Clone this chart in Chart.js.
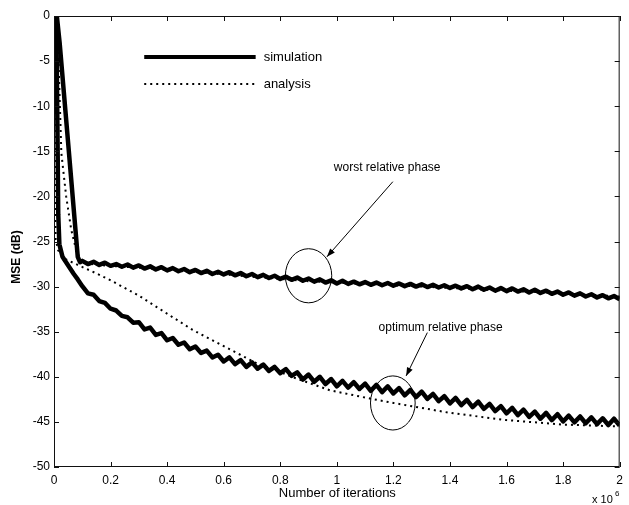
<!DOCTYPE html>
<html>
<head>
<meta charset="utf-8">
<script src="https://cdn.jsdelivr.net/npm/chart.js@4/dist/chart.umd.min.js"></script>
<style>
  body { margin: 0; background: #fff; }
  canvas { display: block; }
</style>
</head>
<body>
<canvas id="mse" width="629" height="505"></canvas>
<script>
// iterations are in units of 1e6, MSE in dB
const xTicks = [0, 0.2, 0.4, 0.6, 0.8, 1, 1.2, 1.4, 1.6, 1.8, 2];
const yTicks = [0, -5, -10, -15, -20, -25, -30, -35, -40, -45, -50];

// shared sample positions for the rippled part of the simulation curves
const rippleX = [
  0.10, 0.12, 0.14, 0.16, 0.18, 0.20, 0.22, 0.24, 0.26, 0.28,
  0.30, 0.32, 0.34, 0.36, 0.38, 0.40, 0.42, 0.44, 0.46, 0.48,
  0.50, 0.52, 0.54, 0.56, 0.58, 0.60, 0.62, 0.64, 0.66, 0.68,
  0.70, 0.72, 0.74, 0.76, 0.78, 0.80, 0.82, 0.84, 0.86, 0.88,
  0.90, 0.92, 0.94, 0.96, 0.98, 1.00, 1.02, 1.04, 1.06, 1.08,
  1.10, 1.12, 1.14, 1.16, 1.18, 1.20, 1.22, 1.24, 1.26, 1.28,
  1.30, 1.32, 1.34, 1.36, 1.38, 1.40, 1.42, 1.44, 1.46, 1.48,
  1.50, 1.52, 1.54, 1.56, 1.58, 1.60, 1.62, 1.64, 1.66, 1.68,
  1.70, 1.72, 1.74, 1.76, 1.78, 1.80, 1.82, 1.84, 1.86, 1.88,
  1.90, 1.92, 1.94, 1.96, 1.98, 2.00
];

// worst relative phase, simulation
const worstSimHeadX = [0.010, 0.020, 0.049, 0.084, 0.092];
const worstSimHeadY = [0, -3.0, -13.7, -26.7, -27.3];
const worstSimY = [
  -27.15, -27.5, -27.25, -27.6, -27.35, -27.7, -27.5, -27.8, -27.55, -27.9,
  -27.65, -28.0, -27.75, -28.1, -27.85, -28.2, -27.95, -28.3, -28.05, -28.4,
  -28.15, -28.5, -28.25, -28.6, -28.35, -28.65, -28.4, -28.75, -28.5, -28.85,
  -28.6, -28.95, -28.7, -29.05, -28.8, -29.15, -28.9, -29.25, -29.0, -29.35,
  -29.1, -29.45, -29.2, -29.55, -29.3, -29.65, -29.35, -29.7, -29.45, -29.75,
  -29.5, -29.8, -29.55, -29.85, -29.6, -29.9, -29.65, -29.95, -29.7, -30.0,
  -29.75, -30.05, -29.8, -30.1, -29.85, -30.15, -29.9, -30.2, -29.95, -30.3,
  -30.0, -30.35, -30.1, -30.45, -30.15, -30.5, -30.2, -30.55, -30.3, -30.65,
  -30.35, -30.7, -30.45, -30.8, -30.55, -30.9, -30.65, -31.0, -30.75, -31.1,
  -30.85, -31.2, -30.95, -31.3, -31.05, -31.4
];

// optimum relative phase, simulation
const optSimHeadX = [0.008, 0.012, 0.015, 0.019, 0.030, 0.049, 0.070, 0.084];
const optSimHeadY = [0, -12.0, -22.0, -25.3, -26.7, -27.6, -28.6, -29.2];
const optSimY = [
  -29.95, -30.75, -30.9, -31.6, -31.8, -32.45, -32.65, -33.25, -33.4, -34.0,
  -33.95, -34.75, -34.55, -35.35, -35.15, -35.95, -35.7, -36.45, -36.2, -36.95,
  -36.65, -37.35, -37.1, -37.85, -37.55, -38.3, -37.85, -38.6, -38.15, -38.9,
  -38.4, -39.1, -38.65, -39.35, -38.9, -39.6, -39.15, -39.9, -39.5, -40.3,
  -39.75, -40.55, -40.0, -40.8, -40.25, -41.05, -40.45, -41.2, -40.6, -41.35,
  -40.75, -41.55, -40.9, -41.7, -41.05, -41.85, -41.25, -42.05, -41.45, -42.25,
  -41.65, -42.45, -41.9, -42.7, -42.15, -42.95, -42.35, -43.15, -42.55, -43.35,
  -42.75, -43.55, -43.0, -43.8, -43.25, -44.05, -43.45, -44.25, -43.65, -44.45,
  -43.85, -44.65, -44.0, -44.8, -44.15, -44.95, -44.3, -45.05, -44.4, -45.15,
  -44.5, -45.25, -44.6, -45.35, -44.65, -45.4
];

// analysis curves
const worstAnaX = [0.012, 0.018, 0.026, 0.043, 0.061, 0.078, 0.096, 0.15, 0.3, 0.5, 0.7, 0.9, 1.1, 1.3, 1.5, 1.7, 1.9, 2.0];
const worstAnaY = [0, -7.0, -15.2, -20.0, -23.7, -25.9, -27.2, -27.6, -27.9, -28.4, -28.9, -29.4, -29.7, -30.0, -30.3, -30.6, -30.9, -31.1];
const optAnaX = [0.002, 0.003, 0.004, 0.006, 0.015, 0.037, 0.084, 0.154, 0.2, 0.3, 0.49, 0.71, 0.85, 0.976, 1.1, 1.2, 1.4, 1.6, 1.8, 2.0];
const optAnaY = [0, -10.0, -20.0, -24.8, -26.0, -26.9, -27.6, -28.6, -29.3, -31.0, -34.8, -38.4, -40.1, -41.5, -42.3, -42.9, -44.0, -44.8, -45.3, -45.5];

const toPoints = (xs, ys) => xs.map((x, i) => ({ x: x, y: ys[i] }));

const FONT = "'Liberation Sans', Arial, sans-serif";

// frame, inward ticks, legend, annotations and axis titles, MATLAB style
const decorations = {
  id: "decorations",
  afterDatasetsDraw(chart) {
    const { ctx, chartArea: a, scales: { x, y } } = chart;
    ctx.save();
    ctx.strokeStyle = "#111";
    ctx.lineWidth = 1;
    ctx.strokeRect(a.left + 0.5, a.top + 0.5, a.right - a.left - 1, a.bottom - a.top - 1);
    ctx.beginPath();
    xTicks.forEach((v) => {
      const px = Math.round(x.getPixelForValue(v)) + 0.5;
      ctx.moveTo(px, a.bottom); ctx.lineTo(px, a.bottom - 5);
      ctx.moveTo(px, a.top); ctx.lineTo(px, a.top + 5);
    });
    yTicks.forEach((v) => {
      const py = Math.round(y.getPixelForValue(v)) + 0.5;
      ctx.moveTo(a.left, py); ctx.lineTo(a.left + 5, py);
      ctx.moveTo(a.right, py); ctx.lineTo(a.right - 5, py);
    });
    ctx.stroke();

    // legend
    const lx0 = x.getPixelForValue(0.319), lx1 = x.getPixelForValue(0.713);
    const ly1 = y.getPixelForValue(-4.55), ly2 = y.getPixelForValue(-7.54);
    ctx.strokeStyle = "#000";
    ctx.lineWidth = 4;
    ctx.beginPath(); ctx.moveTo(lx0, ly1); ctx.lineTo(lx1, ly1); ctx.stroke();
    ctx.lineWidth = 2;
    ctx.setLineDash([2, 4]);
    ctx.beginPath(); ctx.moveTo(lx0, ly2); ctx.lineTo(lx1, ly2); ctx.stroke();
    ctx.setLineDash([]);
    ctx.fillStyle = "#000";
    ctx.font = "13px " + FONT;
    ctx.textBaseline = "middle";
    ctx.textAlign = "left";
    ctx.fillText("simulation", lx1 + 8, ly1);
    ctx.fillText("analysis", lx1 + 8, ly2);

    // annotations
    ctx.font = "12px " + FONT;
    ctx.textAlign = "center";
    ctx.fillText("worst relative phase", x.getPixelForValue(1.178), y.getPixelForValue(-16.85));
    ctx.fillText("optimum relative phase", x.getPixelForValue(1.367), y.getPixelForValue(-34.6));

    ctx.lineWidth = 1;
    const ellipse = (cx, cy, rx, ry) => {
      const px = x.getPixelForValue(cx), py = y.getPixelForValue(cy);
      const rpx = x.getPixelForValue(cx + rx) - px, rpy = y.getPixelForValue(cy - ry) - py;
      ctx.beginPath(); ctx.ellipse(px, py, rpx, rpy, 0, 0, Math.PI * 2); ctx.stroke();
    };
    ellipse(0.90, -28.8, 0.082, 3.0);
    ellipse(1.198, -42.9, 0.079, 3.0);

    const arrow = (x0, y0, x1, y1) => {
      const ax = x.getPixelForValue(x0), ay = y.getPixelForValue(y0);
      const bx = x.getPixelForValue(x1), by = y.getPixelForValue(y1);
      const ang = Math.atan2(by - ay, bx - ax);
      ctx.beginPath(); ctx.moveTo(ax, ay); ctx.lineTo(bx, by); ctx.stroke();
      ctx.beginPath();
      ctx.moveTo(bx, by);
      ctx.lineTo(bx - 9 * Math.cos(ang - 0.35), by - 9 * Math.sin(ang - 0.35));
      ctx.lineTo(bx - 9 * Math.cos(ang + 0.35), by - 9 * Math.sin(ang + 0.35));
      ctx.closePath(); ctx.fill();
    };
    arrow(1.198, -18.37, 0.965, -26.7);
    arrow(1.32, -35.1, 1.245, -39.9);

    // axis titles
    ctx.font = "13px " + FONT;
    ctx.textAlign = "center";
    ctx.fillText("Number of iterations", (a.left + a.right) / 2 + 0.5, 493);
    ctx.font = "11px " + FONT;
    ctx.textAlign = "left";
    ctx.fillText("x 10", 592, 500);
    ctx.font = "8px " + FONT;
    ctx.fillText("6", 615, 494);

    ctx.translate(17, 257);
    ctx.rotate(-Math.PI / 2);
    ctx.font = "bold 12px " + FONT;
    ctx.textAlign = "center";
    ctx.fillText("MSE (dB)", 0, 0);
    ctx.restore();
  }
};

const solid = { borderColor: "#000", borderWidth: 4.5, pointRadius: 0, tension: 0, fill: false, borderJoinStyle: "round" };
const dotted = { borderColor: "#000", borderWidth: 2, borderDash: [2, 4], pointRadius: 0, tension: 0, fill: false };

new Chart(document.getElementById("mse"), {
  type: "line",
  data: {
    datasets: [
      { ...solid, label: "simulation (worst)", data: toPoints(worstSimHeadX.concat(rippleX), worstSimHeadY.concat(worstSimY)) },
      { ...solid, label: "simulation (optimum)", data: toPoints(optSimHeadX.concat(rippleX), optSimHeadY.concat(optSimY)) },
      { ...dotted, label: "analysis (worst)", data: toPoints(worstAnaX, worstAnaY) },
      { ...dotted, label: "analysis (optimum)", data: toPoints(optAnaX, optAnaY) },
    ],
  },
  options: {
    responsive: false,
    animation: false,
    layout: { padding: { top: 16, right: 4, left: 0, bottom: 0 } },
    plugins: { legend: { display: false }, tooltip: { enabled: false } },
    scales: {
      x: {
        type: "linear",
        min: 0,
        max: 2,
        afterBuildTicks: (s) => { s.ticks = xTicks.map((v) => ({ value: v })); },
        afterFit: (s) => { s.height = 38; },
        grid: { display: false, drawTicks: false },
        border: { display: false },
        ticks: {
          padding: 6,
          color: "#000",
          font: { family: FONT, size: 12 },
          maxRotation: 0,
          callback: (v) => String(Number(v.toFixed(1))),
        },
      },
      y: {
        min: -50,
        max: 0,
        afterBuildTicks: (s) => { s.ticks = yTicks.map((v) => ({ value: v })); },
        afterFit: (s) => { s.width = 54; },
        grid: { display: false, drawTicks: false },
        border: { display: false },
        ticks: {
          padding: 4,
          color: "#000",
          font: { family: FONT, size: 12 },
          callback: (v) => String(v),
        },
      },
    },
  },
  plugins: [decorations],
});
</script>
</body>
</html>
